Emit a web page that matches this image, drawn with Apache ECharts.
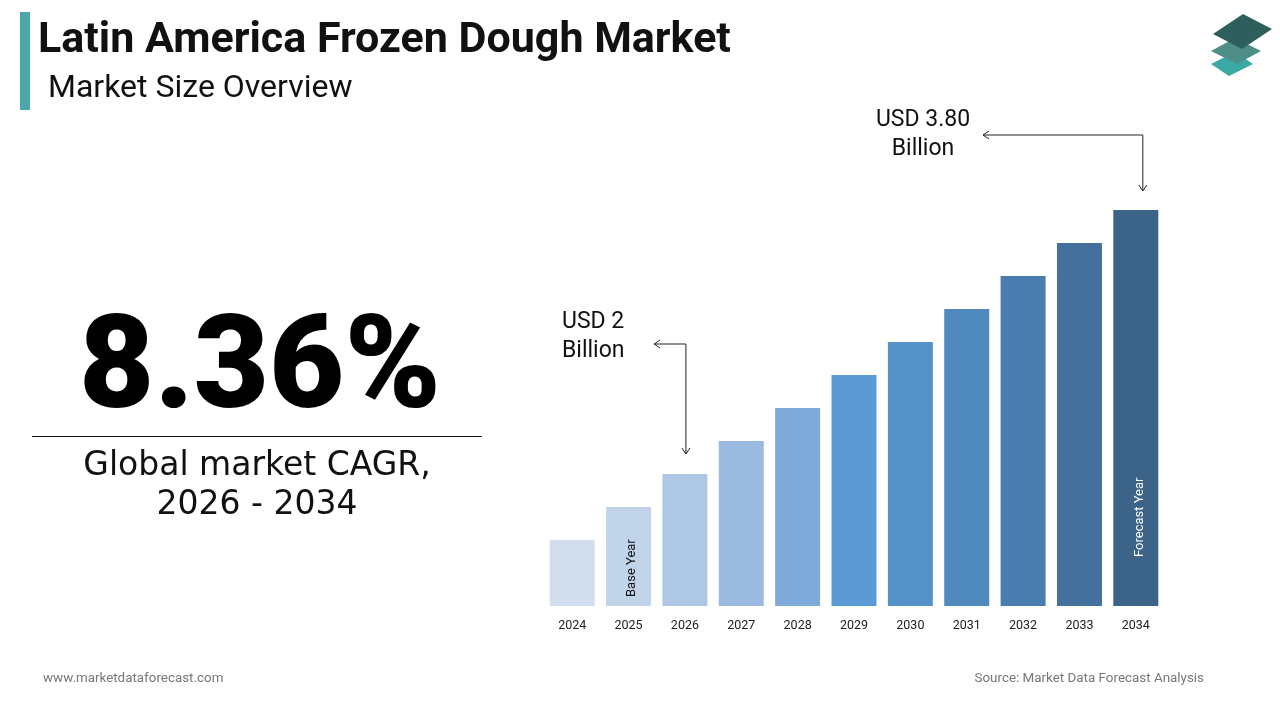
<!DOCTYPE html>
<html>
<head>
<meta charset="utf-8">
<script src="https://cdn.jsdelivr.net/npm/echarts@6/dist/echarts.min.js"></script>
<style>
html,body{margin:0;padding:0;background:#fff;}
#chart{width:1280px;height:720px;}
</style>
</head>
<body>
<div id="chart"></div>
<script>
// Data
const years = ['2024','2025','2026','2027','2028','2029','2030','2031','2032','2033','2034'];
const marketSize = [1.55, 1.775, 2.0, 2.225, 2.45, 2.675, 2.9, 3.125, 3.35, 3.575, 3.8]; // USD Billion
const barColors = ['#d2deee','#c2d4ea','#aec7e5','#9abadf','#7eaad9','#5b9ad4','#5592c7','#4f89bd','#4a7daf','#43709c','#3b6488'];
const titleText = 'Latin America Frozen Dough Market';
const subtitleText = 'Market Size Overview';
const cagrText = '8.36%';
const cagrLabel = 'Global market CAGR,\n2026 - 2034';
const startLabel = 'USD 2\nBillion';
const endLabel = 'USD 3.80\nBillion';

const chart = echarts.init(document.getElementById('chart'));

const option = {
  backgroundColor: '#ffffff',
  animation: false,
  grid: { left: 544, right: 116, top: 210, bottom: 114 },
  xAxis: {
    type: 'category',
    data: years,
    axisLine: { show: false },
    axisTick: { show: false },
    axisLabel: { color: '#222', fontSize: 12.5, fontFamily: 'Roboto', margin: 13 }
  },
  yAxis: {
    type: 'value',
    min: 1.1,
    max: 3.8,
    show: false,
    splitLine: { show: false }
  },
  series: [{
    type: 'bar',
    barWidth: 45,
    data: marketSize.map((v, i) => {
      const d = { value: v, itemStyle: { color: barColors[i] } };
      if (i === 1) {
        d.label = { show: true, position: 'insideBottom', rotate: 90, formatter: 'Base Year',
          color: '#111', fontSize: 13, fontFamily: 'Roboto', align: 'left', verticalAlign: 'middle', offset: [4, 3] };
      }
      if (i === years.length - 1) {
        d.label = { show: true, position: 'insideBottom', rotate: 90, formatter: 'Forecast Year',
          color: '#fff', fontSize: 13, fontFamily: 'Roboto', align: 'left', verticalAlign: 'middle', offset: [44, 4] };
      }
      return d;
    })
  }]
};
chart.setOption(option);

function arrowHead(x, y, dir) {
  const s = 5, w = 4;
  let pts;
  if (dir === 'left') pts = [[x + s + 1, y - w], [x, y], [x + s + 1, y + w]];
  else pts = [[x - w, y - s - 1], [x, y], [x + w, y - s - 1]];
  return { type: 'polyline', shape: { points: pts }, style: { stroke: '#222', lineWidth: 1, fill: null } };
}

const pEnd = chart.convertToPixel({ xAxisIndex: 0, yAxisIndex: 0 }, [years.length - 1, marketSize[years.length - 1]]);
const pStart = chart.convertToPixel({ xAxisIndex: 0, yAxisIndex: 0 }, [2, marketSize[2]]);

const ex = pEnd[0] + 7, ey = 135, eTip = pEnd[1] - 19;
const sx = pStart[0] + 1, sy = 344, sTip = pStart[1] - 20;

chart.setOption({
  graphic: [
    { type: 'rect', shape: { x: 20, y: 12, width: 10, height: 98 }, style: { fill: '#4aa8a8' } },
    { type: 'text', x: 38, y: 41, style: { text: titleText, font: 'bold 43px Roboto', fill: '#111', textVerticalAlign: 'middle' } },
    { type: 'text', x: 48, y: 89, style: { text: subtitleText, font: '32px Roboto', fill: '#111', textVerticalAlign: 'middle' } },
    // logo
    { type: 'polygon', shape: { points: [[1211, 64], [1235, 52], [1253, 64], [1229, 76]] }, style: { fill: '#3aa9a6' } },
    { type: 'polygon', shape: { points: [[1211, 51], [1235, 38], [1261, 51], [1237, 64]] }, style: { fill: '#4f8d89' } },
    { type: 'polygon', shape: { points: [[1213, 34], [1243, 14], [1272, 29], [1242, 49]] }, style: { fill: '#2f5f5c' } },
    // CAGR
    { type: 'text', x: 260, y: 374, style: { text: cagrText, font: '900 130px Roboto', fill: '#000', textAlign: 'center', textVerticalAlign: 'middle' } },
    { type: 'line', shape: { x1: 32, y1: 436.5, x2: 482, y2: 436.5 }, style: { stroke: '#111', lineWidth: 1 } },
    { type: 'text', x: 257, y: 486, style: { text: cagrLabel, font: '33px "DejaVu Sans"', fill: '#111', textAlign: 'center', textVerticalAlign: 'middle', lineHeight: 39 } },
    // annotations
    { type: 'text', x: 923, y: 135, style: { text: endLabel, font: '23px Roboto', fill: '#111', textAlign: 'center', textVerticalAlign: 'middle', lineHeight: 29 } },
    { type: 'polyline', shape: { points: [[983, ey], [ex, ey], [ex, eTip]] }, style: { stroke: '#222', lineWidth: 1, fill: null } },
    arrowHead(983, ey, 'left'),
    arrowHead(ex, eTip, 'down'),
    { type: 'text', x: 562, y: 337, style: { text: startLabel, font: '23px Roboto', fill: '#111', textAlign: 'left', textVerticalAlign: 'middle', lineHeight: 29 } },
    { type: 'polyline', shape: { points: [[654, sy], [sx, sy], [sx, sTip]] }, style: { stroke: '#222', lineWidth: 1, fill: null } },
    arrowHead(654, sy, 'left'),
    arrowHead(sx, sTip, 'down'),
    // footer
    { type: 'text', x: 43, y: 679, style: { text: 'www.marketdataforecast.com', font: '13.4px Roboto', fill: '#777', textVerticalAlign: 'middle' } },
    { type: 'text', x: 1204, y: 679, style: { text: 'Source: Market Data Forecast Analysis', font: '13.4px Roboto', fill: '#777', textAlign: 'right', textVerticalAlign: 'middle' } }
  ]
});
</script>
</body>
</html>
